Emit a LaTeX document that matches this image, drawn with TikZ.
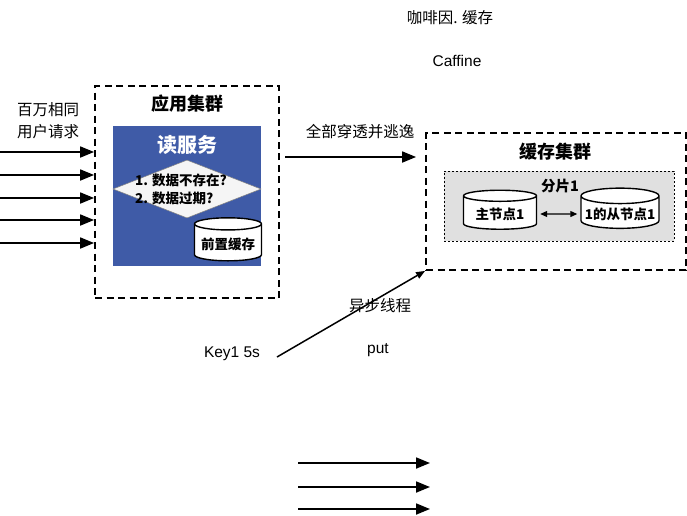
\documentclass[tikz,border=0pt]{standalone}
\usepackage{fontspec}
\setmainfont{Noto Sans CJK SC}
\newfontfamily\lat{Liberation Sans}
\usetikzlibrary{shapes.geometric,arrows.meta}
\definecolor{srvblue}{RGB}{63,91,167}
\definecolor{shardgray}{RGB}{224,224,224}
\definecolor{diafill}{RGB}{245,245,245}

\begin{document}
\begin{tikzpicture}[x=1pt,y=-1pt,
	arr/.style={line width=1.8pt,-{Triangle[length=14pt,width=11pt]}},
	cluster/.style={draw,line width=1.8pt,dash pattern=on 7pt off 4.5pt},
	db/.style={cylinder,shape border rotate=90,aspect=0.2,draw,fill=white,line width=1.4pt,font=\bfseries\fontsize{13.5}{13.5}\selectfont},
	title/.style={font=\bfseries\fontsize{18}{18}\selectfont},
	txt/.style={font=\fontsize{15.5}{22}\selectfont}]
	\useasboundingbox (0,0) rectangle (687,515);
	
	% application cluster
	\node[cluster,minimum width=184pt,minimum height=212pt] (app) at (187,192) {};
	\node[title] (apptitle) at (187,104) {应用集群};
	\node[fill=srvblue,minimum width=148pt,minimum height=140pt] (svc) at (187,196) {};
	\node[text=white,font=\bfseries\fontsize{20}{20}\selectfont] (svctitle) at (187,145) {读服务};
	\node[diamond,aspect=2.55,fill=diafill,draw=black!50,line width=.5pt,minimum width=148pt,minimum height=58pt,inner sep=0pt] (check) at (187,189) {};
	\node[align=left,font=\bfseries\fontsize{13.5}{18}\selectfont] (checktxt) at (181,189) {1. 数据不存在?\\2. 数据过期?};
	\node[db,minimum width=67pt,minimum height=43pt] (local) at (228,244) {前置缓存};
	
	% cache cluster
	\node[cluster,minimum width=260pt,minimum height=137pt] (cache) at (556,201.5) {};
	\node[title] (cachetitle) at (555,152) {缓存集群};
	\node[draw,fill=shardgray,dash pattern=on 2pt off 2pt,line width=.6pt,minimum width=230pt,minimum height=70pt] (shard) at (559,206) {};
	\node[font=\bfseries\fontsize{14.5}{14.5}\selectfont] (shardtitle) at (560,186) {分片1};
	\node[db,minimum width=73pt,minimum height=39pt] (master) at (500,214) {主节点1};
	\node[db,minimum width=78pt,minimum height=39pt] (slave) at (620,214) {1的从节点1};
	\draw[line width=1.1pt,{Triangle[length=7pt,width=6pt]}-{Triangle[length=7pt,width=6pt]},shorten <=3pt,shorten >=3pt] (master) -- (slave);
	
	% requests
	\node[txt,align=center] (req) at (48,121) {百万相同\\用户请求};
	\foreach \y [count=\i] in {152,175,198,220,243}{
		\coordinate (in\i) at (0,\y);
		\draw[arr] (in\i) -- (in\i -| app.west);
	}
	
	\coordinate (thru) at (285,157);
	\draw[arr,shorten >=9pt] (thru) -- (thru -| cache.west);
	\node[txt] (thrulabel) at (360,132) {全部穿透并逃逸};
	
	% async put
	\node[txt] (key) at (232,354) {\lat Key1 5s};
	\coordinate (keyline) at (277,357);
	\draw[line width=1.5pt,-{Triangle[length=9pt,width=7pt]}] (keyline) -- (cache.south west);
	\node[txt] (async) at (380,306) {异步线程};
	\node[txt] (put) at (378,350) {\lat put};
	
	\node[txt] (caffeine) at (450,18) {咖啡因. 缓存};
	\node[txt] (caffine) at (457,61) {\lat Caffine};
	
	\foreach \y [count=\i] in {463,487,509}{
		\coordinate (bs\i) at (298,\y);
		\coordinate (be\i) at (430,\y);
		\draw[arr] (bs\i) -- (be\i);
	}
\end{tikzpicture}
\end{document}
